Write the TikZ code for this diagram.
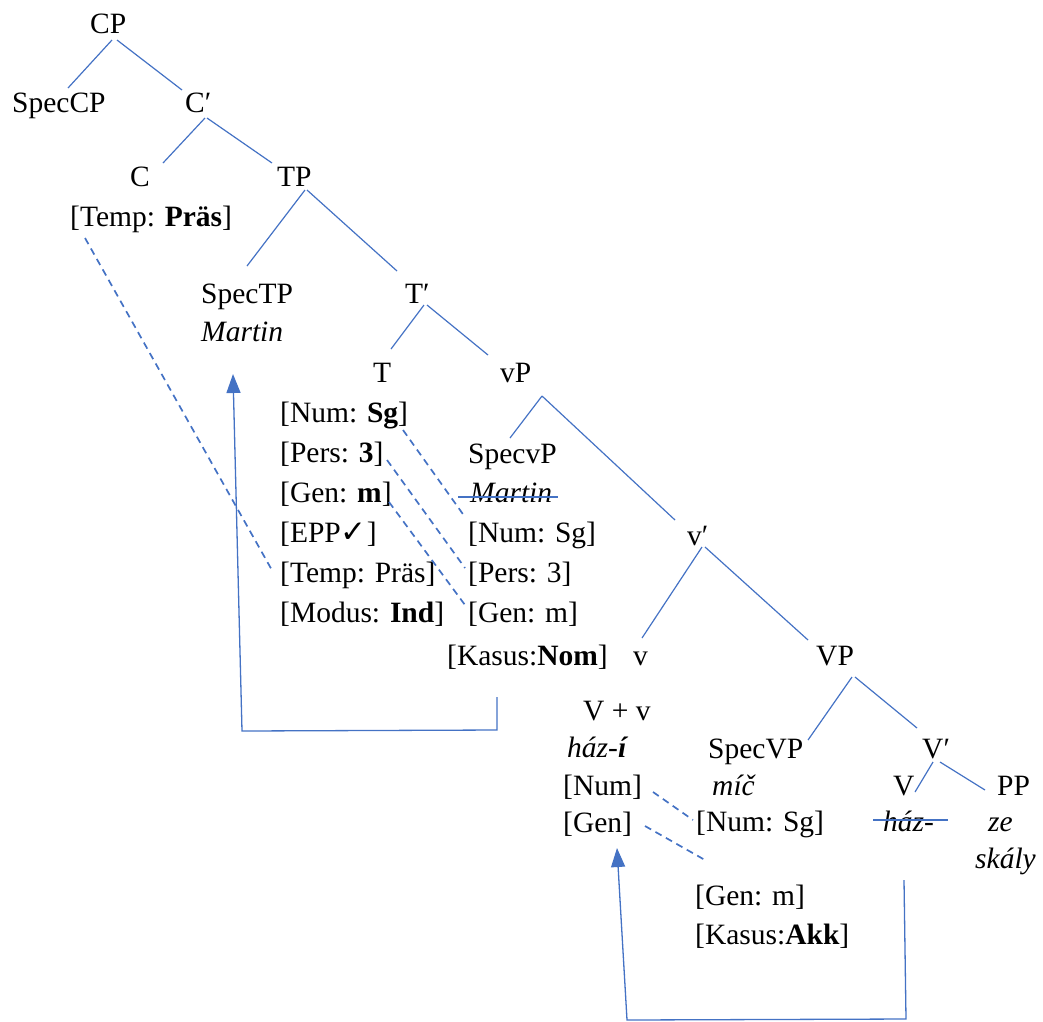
\documentclass[tikz,border=0pt]{standalone}
\usepackage{fontspec}
\setmainfont{Liberation Serif}
\newfontfamily\symfont{DejaVu Sans}
\usetikzlibrary{arrows.meta}
\definecolor{lblue}{HTML}{4472C4}
\begin{document}
\begin{tikzpicture}[x=1pt,y=-1pt,
  lbl/.style={anchor=base west, inner sep=0pt, font=\fontsize{29.5}{34}\selectfont},
  edge/.style={draw=lblue, line width=1.2pt},
  agree/.style={draw=lblue, line width=1.7pt, dash pattern=on 7pt off 5pt},
  move/.style={draw=lblue, line width=1.3pt, -{Triangle[length=19pt,width=14pt]}},
  strike/.style={draw=lblue, line width=1.3pt}]
\useasboundingbox (0,0) rectangle (1043,1021);

% ---- nodes ----
\node[lbl] (CP) at (90,33) {CP};
\node[lbl] (SpecCP) at (12,112) {SpecCP};
\node[lbl] (Cbar) at (185,112) {C′};
\node[lbl] (C) at (130,186) {C};
\node[lbl] (TP) at (277,186) {TP};
\node[lbl] (CTemp) at (70,226) {[Temp: \textbf{Präs}]};
\node[lbl] (SpecTP) at (201,303) {SpecTP};
\node[lbl] (MartinTP) at (201,341) {\itshape Martin};
\node[lbl] (Tbar) at (405,303) {T′};
\node[lbl] (T) at (373,382) {T};
\node[lbl] (vP) at (500,382) {vP};
\node[lbl] (TNum) at (280,422) {[Num: \textbf{Sg}]};
\node[lbl] (TPers) at (280,462) {[Pers: \textbf{3}]};
\node[lbl] (TGen) at (280,502) {[Gen: \textbf{m}]};
\node[lbl] (TEPP) at (280,542) {[EPP{\symfont\fontsize{31}{34}\selectfont ✓}]};
\node[lbl] (TTemp) at (280,582) {[Temp: Präs]};
\node[lbl] (TMod) at (280,622) {[Modus: \textbf{Ind}]};
\node[lbl] (SpecvP) at (468,463) {SpecvP};
\node[lbl] (MartinvP) at (470,502) {\itshape Martin};
\node[lbl] (vNum) at (468,542) {[Num: Sg]};
\node[lbl] (vPers) at (468,582) {[Pers: 3]};
\node[lbl] (vGen) at (468,622) {[Gen: m]};
\node[lbl] (vbar) at (687,545) {v′};
\node[lbl] (KasNom) at (447,665) {[Kasus:\textbf{Nom}]};
\node[lbl] (v) at (633,665) {v};
\node[lbl] (VP) at (816,665) {VP};
\node[lbl] (Vv) at (583,720) {V + v};
\node[lbl] (hazi) at (567,757) {\itshape ház-\textbf{í}};
\node[lbl] (Num) at (563,795) {[Num]};
\node[lbl] (Gen) at (563,832) {[Gen]};
\node[lbl] (SpecVP) at (708,758) {SpecVP};
\node[lbl] (mic) at (712,795) {\itshape míč};
\node[lbl] (NumSg) at (696,831) {[Num: Sg]};
\node[lbl] (GenM) at (695,905) {[Gen: m]};
\node[lbl] (KasAkk) at (695,944) {[Kasus:\textbf{Akk}]};
\node[lbl] (Vbar) at (922,758) {V′};
\node[lbl] (V) at (893,795) {V};
\node[lbl] (PP) at (997,795) {PP};
\node[lbl] (haz) at (883,831) {\itshape ház-};
\node[lbl] (ze) at (988,831) {\itshape ze};
\node[lbl] (skaly) at (975,868) {\itshape skály};

% ---- tree edges ----
\draw[edge] ([shift={(22,7)}]CP.base west) -- ([shift={(56,-24)}]SpecCP.base west);
\draw[edge] ([shift={(27,7)}]CP.base west) -- ([shift={(-3,-22)}]Cbar.base west);
\draw[edge] ([shift={(20,6)}]Cbar.base west) -- ([shift={(33,-23)}]C.base west);
\draw[edge] ([shift={(22,6)}]Cbar.base west) -- ([shift={(-5,-23)}]TP.base west);
\draw[edge] ([shift={(28,4)}]TP.base west) -- ([shift={(46,-37)}]SpecTP.base west);
\draw[edge] ([shift={(30,4)}]TP.base west) -- ([shift={(-8,-32)}]Tbar.base west);
\draw[edge] ([shift={(19,2)}]Tbar.base west) -- ([shift={(18,-33)}]T.base west);
\draw[edge] ([shift={(22,2)}]Tbar.base west) -- ([shift={(-12,-27)}]vP.base west);
\draw[edge] ([shift={(42,14)}]vP.base west) -- ([shift={(42,-25)}]SpecvP.base west);
\draw[edge] ([shift={(42,14)}]vP.base west) -- ([shift={(-12,-25)}]vbar.base west);
\draw[edge] ([shift={(15,2)}]vbar.base west) -- ([shift={(9,-27)}]v.base west);
\draw[edge] ([shift={(18,2)}]vbar.base west) -- ([shift={(-8,-25)}]VP.base west);
\draw[edge] ([shift={(36,12)}]VP.base west) -- ([shift={(100,-18)}]SpecVP.base west);
\draw[edge] ([shift={(39,12)}]VP.base west) -- ([shift={(-5,-30)}]Vbar.base west);
\draw[edge] ([shift={(11,4)}]Vbar.base west) -- ([shift={(22,-3)}]V.base west);
\draw[edge] ([shift={(18,4)}]Vbar.base west) -- ([shift={(-12,-5)}]PP.base west);

% ---- strike-throughs ----
\draw[strike] ([shift={(-12,-5)}]MartinvP.base west) -- ([shift={(88,-5)}]MartinvP.base west);
\draw[strike] ([shift={(-10,-11)}]haz.base west) -- ([shift={(65,-11)}]haz.base west);

% ---- agreement (dashed) ----
\draw[agree] ([shift={(15,12)}]CTemp.base west) -- ([shift={(-7,-10)}]TTemp.base west);
\draw[agree] ([shift={(123,8)}]TNum.base west) -- ([shift={(-3,-25)}]vNum.base west);
\draw[agree] ([shift={(107,-2)}]TPers.base west) -- ([shift={(-3,-14)}]vPers.base west);
\draw[agree] ([shift={(109,0)}]TGen.base west) -- ([shift={(-3,-17)}]vGen.base west);
\draw[agree] ([shift={(90,-3)}]Num.base west) -- ([shift={(-3,-11)}]NumSg.base west);
\draw[agree] ([shift={(82,-6)}]Gen.base west) -- ([shift={(10,-45)}]GenM.base west);

% ---- movement arrows ----
\draw[move] ([shift={(50,32)}]KasNom.base west) -- ([shift={(50,65)}]KasNom.base west)
  -- ([shift={(-205,66)}]KasNom.base west) -- ([shift={(32,33)}]MartinTP.base west);
\draw[move] ([shift={(21,49)}]haz.base west) -- ([shift={(23,188)}]haz.base west)
  -- ([shift={(64,188)}]Gen.base west) -- ([shift={(54,16)}]Gen.base west);
\end{tikzpicture}
\end{document}
